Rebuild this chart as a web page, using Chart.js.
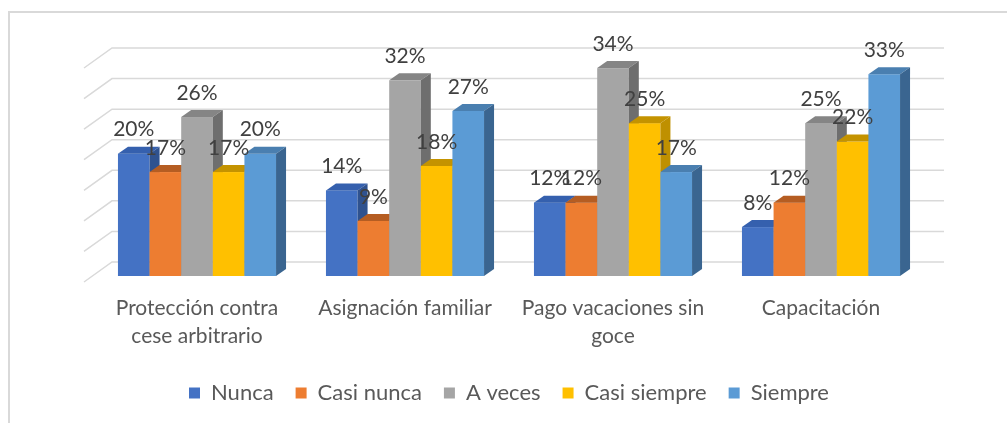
<!DOCTYPE html>
<html>
<head>
<meta charset="utf-8">
<script src="https://cdn.jsdelivr.net/npm/chart.js@4.4.0/dist/chart.umd.min.js"></script>
<style>
  body { margin: 0; background: #fff; }
  #frame { position: absolute; left: 8px; top: 11px; right: -4px; bottom: -4px; border-left: 2px solid #d9d9d9; border-top: 2px solid #d9d9d9; }
  #chart { position: absolute; left: 0; top: 0; }
</style>
</head>
<body>
<div id="frame"></div>
<canvas id="chart" width="1007" height="423"></canvas>
<script>
// categories and series
const categories = [["Protección contra", "cese arbitrario"], "Asignación familiar", ["Pago vacaciones sin", "goce"], "Capacitación"];
const seriesNames = ["Nunca", "Casi nunca", "A veces", "Casi siempre", "Siempre"];
const nunca = [0.20, 0.14, 0.12, 0.08];
const casiNunca = [0.17, 0.09, 0.12, 0.12];
const aVeces = [0.26, 0.32, 0.34, 0.25];
const casiSiempre = [0.17, 0.18, 0.25, 0.22];
const siempre = [0.20, 0.27, 0.17, 0.33];
const gridTicks = [0, 0.05, 0.10, 0.15, 0.20, 0.25, 0.30, 0.35];

const frontColors = ["#4472C4", "#ED7D31", "#A5A5A5", "#FFC000", "#5B9BD5"];
const topColors = ["#3560AE", "#B55D22", "#858585", "#C49300", "#4A7FB0"];
const sideColors = ["#2F528F", "#AE5A21", "#6E6E6E", "#BF9000", "#3A6590"];

// 3D offsets
const depth = { x: 10, y: 7 };
const wall = { x: 19, y: 14 };
const floorEdge = { x: 9, y: 6 };

const bars3d = {
    id: "bars3d",
    beforeDatasetsDraw(chart) {
        const ctx = chart.ctx;
        const area = chart.chartArea;
        const yScale = chart.scales.y;
        ctx.save();

        // back wall gridlines + side diagonals
        ctx.strokeStyle = "#d9d9d9";
        ctx.lineWidth = 1.5;
        gridTicks.forEach(v => {
            const py = yScale.getPixelForValue(v);
            ctx.beginPath();
            ctx.moveTo(area.left - floorEdge.x, py + floorEdge.y);
            ctx.lineTo(area.left + wall.x, py - wall.y);
            ctx.lineTo(area.right + wall.x, py - wall.y);
            ctx.stroke();
        });

        // bars, drawn left to right so each front hides the previous side
        const n = chart.data.labels.length;
        for (let c = 0; c < n; c++) {
            chart.data.datasets.forEach((ds, i) => {
                const bar = chart.getDatasetMeta(i).data[c];
                const l = bar.x - bar.width / 2, r = bar.x + bar.width / 2;
                const t = bar.y, b = bar.base;
                ctx.fillStyle = frontColors[i];
                ctx.fillRect(l, t, r - l, b - t);
                ctx.fillStyle = topColors[i];
                ctx.beginPath();
                ctx.moveTo(l, t);
                ctx.lineTo(l + depth.x, t - depth.y);
                ctx.lineTo(r + depth.x, t - depth.y);
                ctx.lineTo(r, t);
                ctx.closePath();
                ctx.fill();
                ctx.fillStyle = sideColors[i];
                ctx.beginPath();
                ctx.moveTo(r, t);
                ctx.lineTo(r + depth.x, t - depth.y);
                ctx.lineTo(r + depth.x, b - depth.y);
                ctx.lineTo(r, b);
                ctx.closePath();
                ctx.fill();
            });
        }

        // value labels
        ctx.fillStyle = "#404040";
        ctx.font = "21px Lato";
        ctx.textAlign = "center";
        ctx.textBaseline = "middle";
        chart.data.datasets.forEach((ds, i) => {
            chart.getDatasetMeta(i).data.forEach((bar, j) => {
                ctx.fillText(Math.round(ds.data[j] * 100) + "%", bar.x, bar.y - 24);
            });
        });

        ctx.restore();
        return false;
    }
};

const seriesData = [nunca, casiNunca, aVeces, casiSiempre, siempre];

new Chart(document.getElementById("chart"), {
    type: "bar",
    data: {
        labels: categories,
        datasets: seriesNames.map((name, i) => ({
            label: name,
            data: seriesData[i],
            backgroundColor: frontColors[i],
            borderWidth: 0
        }))
    },
    options: {
        responsive: false,
        animation: false,
        datasets: {
            bar: { categoryPercentage: 0.76, barPercentage: 1 }
        },
        layout: {
            padding: { left: 93, right: 82, top: 62, bottom: 9 }
        },
        scales: {
            x: {
                grid: { display: false },
                border: { display: false },
                ticks: {
                    color: "#595959",
                    font: { family: "Lato", size: 21, lineHeight: 1.33 },
                    padding: 10,
                    maxRotation: 0,
                    autoSkip: false
                },
                afterFit(axis) { axis.height = 84; }
            },
            y: {
                display: false,
                min: 0,
                max: 0.35
            }
        },
        plugins: {
            tooltip: { enabled: false },
            legend: {
                position: "bottom",
                labels: {
                    color: "#595959",
                    font: { family: "Lato", size: 22 },
                    boxWidth: 11,
                    boxHeight: 11,
                    padding: 22
                }
            }
        }
    },
    plugins: [bars3d]
});
</script>
</body>
</html>
